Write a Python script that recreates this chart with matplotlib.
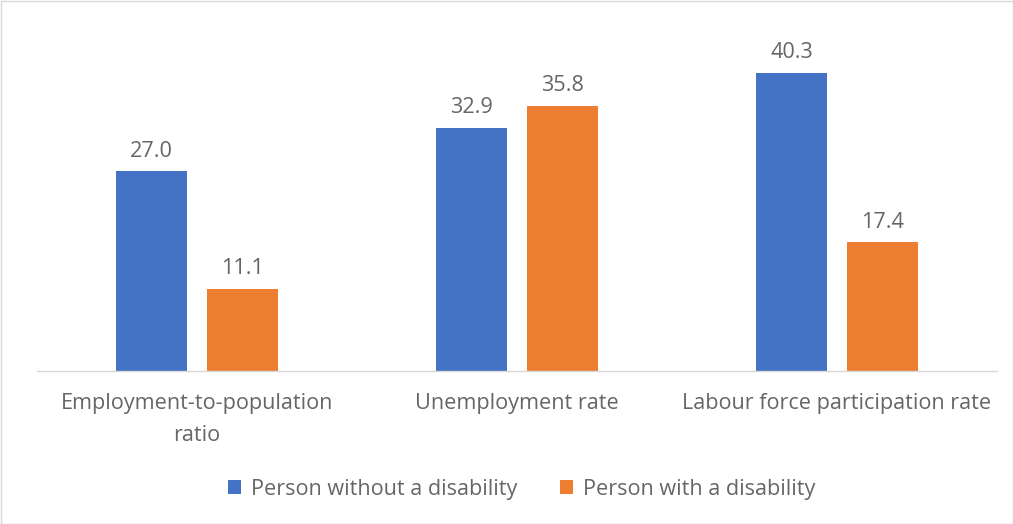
import matplotlib
matplotlib.use("Agg")
import matplotlib.pyplot as plt
import numpy as np
from matplotlib.patches import Rectangle

categories = ["Employment-to-population\nratio", "Unemployment rate", "Labour force participation rate"]
series_names = ["Person without a disability", "Person with a disability"]
without_disability = [27.0, 32.9, 40.3]
with_disability = [11.1, 35.8, 17.4]
colors = ["#4472C4", "#ED7D31"]
text_color = "#666666"

plt.rcParams['font.family'] = ['Open Sans', 'DejaVu Sans']
fs = 15.6

fig = plt.figure(figsize=(10.13, 5.24), dpi=100)
ax = fig.add_axes([37/1013, 1-371/524, (997-37)/1013, (371-38)/524])

x = np.arange(len(categories))
w = 0.222
off = 0.142
b1 = ax.bar(x - off, without_disability, w, color=colors[0], label=series_names[0])
b2 = ax.bar(x + off, with_disability, w, color=colors[1], label=series_names[1])
for bars, vals in ((b1, without_disability), (b2, with_disability)):
    for r, v in zip(bars, vals):
        ax.text(r.get_x() + r.get_width()/2, v + 1.3, f"{v:.1f}", ha="center", va="bottom",
                fontsize=fs, color=text_color)

ax.set_xlim(-0.5, 2.5)
ax.set_ylim(0, 45)
ax.set_yticks([])
ax.set_xticks(x)
ax.set_xticklabels(categories, fontsize=fs, color=text_color, linespacing=1.65)
ax.tick_params(axis="x", length=0, pad=16)
for s in ["top", "right", "left"]:
    ax.spines[s].set_visible(False)
ax.spines["bottom"].set_color("#D9D9D9")
ax.spines["bottom"].set_linewidth(1)

leg = fig.legend(handles=[b1, b2], labels=series_names, loc="center", bbox_to_anchor=(0.5148, 1-489/524),
                 ncol=2, frameon=False, fontsize=fs, handlelength=0.6, handleheight=0.6,
                 columnspacing=1.97, handletextpad=0.45)
for t in leg.get_texts():
    t.set_color(text_color)

fig.patches.append(Rectangle((0.5/1013, 0.5/524), 1-1/1013, 1-1/524, transform=fig.transFigure,
                             fill=False, edgecolor="#D9D9D9", linewidth=1))

fig.savefig("out.png", dpi=100)
